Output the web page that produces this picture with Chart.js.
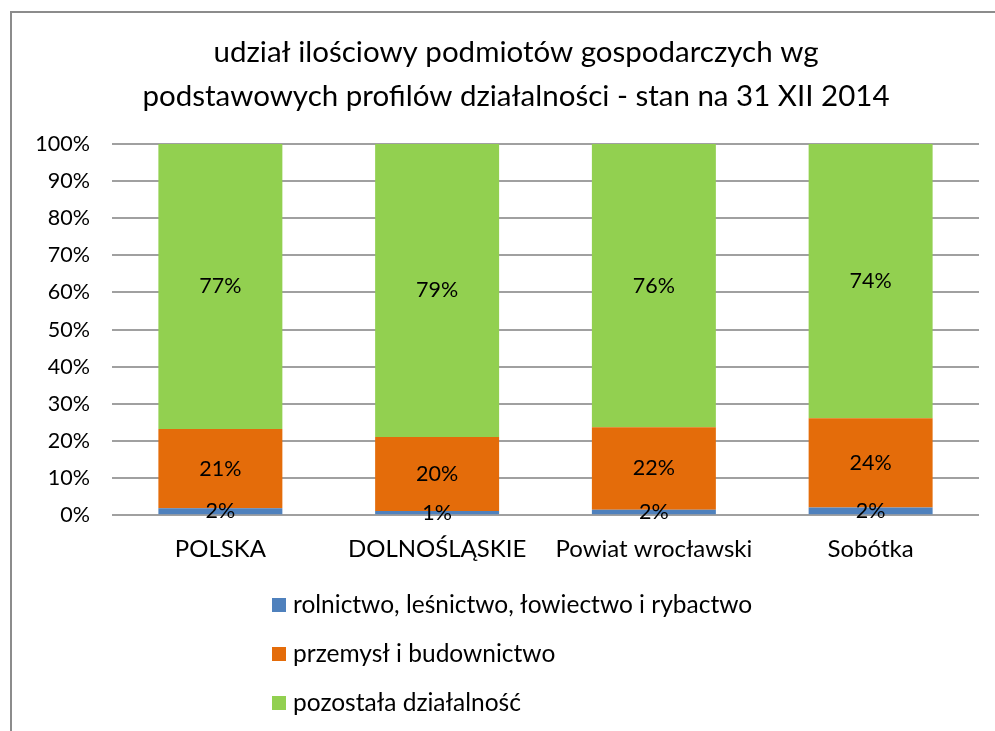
<!DOCTYPE html>
<html>
<head>
<meta charset="utf-8">
<script src="https://cdn.jsdelivr.net/npm/chart.js@4"></script>
<style>
  body { margin: 0; background: #fff; }
  #wrap { position: relative; width: 995px; height: 731px; }
</style>
</head>
<body>
<div id="wrap"><canvas id="profileChart" width="995" height="731"></canvas></div>
<script>
var categories = ["POLSKA", "DOLNOŚLĄSKIE", "Powiat wrocławski", "Sobótka"];
var seriesNames = ["rolnictwo, leśnictwo, łowiectwo i rybactwo", "przemysł i budownictwo", "pozostała działalność"];
var rolnictwo = [1.9, 1.1, 1.5, 2.1];
var przemysl = [21.3, 20.0, 22.2, 24.0];
var pozostala = [76.8, 78.9, 76.3, 73.9];
var colors = ["#4F81BD", "#E46C0A", "#92D050"];
var titleLines = ["udział ilościowy podmiotów gospodarczych wg", "podstawowych profilów działalności - stan na 31 XII 2014"];

var fontName = "Lato";

// labels in the middle of each segment
var segmentLabels = {
    id: 'segmentLabels',
    afterDatasetsDraw: function (chart) {
        var ctx = chart.ctx;
        ctx.save();
        ctx.font = "21.5px " + fontName;
        ctx.fillStyle = "#000";
        ctx.textAlign = "center";
        ctx.textBaseline = "middle";
        chart.data.datasets.forEach(function (ds, i) {
            chart.getDatasetMeta(i).data.forEach(function (bar, j) {
                var y = (bar.y + bar.base) / 2;
                ctx.fillText(Math.round(ds.data[j]) + "%", bar.x, y);
            });
        });
        ctx.restore();
    }
};

// frame, title and vertical legend
var frameAndLegend = {
    id: 'frameAndLegend',
    afterDraw: function (chart) {
        var ctx = chart.ctx;
        ctx.save();
        ctx.strokeStyle = "#8c8c8c";
        ctx.lineWidth = 2;
        ctx.beginPath();
        ctx.moveTo(11, 731);
        ctx.lineTo(11, 12);
        ctx.lineTo(995, 12);
        ctx.stroke();

        ctx.fillStyle = "#000";
        ctx.font = "29.5px " + fontName;
        ctx.textAlign = "center";
        ctx.textBaseline = "middle";
        ctx.fillText(titleLines[0], 516, 52);
        ctx.fillText(titleLines[1], 516, 96);

        ctx.font = "24.5px " + fontName;
        ctx.textAlign = "left";
        for (var i = 0; i < seriesNames.length; i++) {
            var y = 605 + i * 49;
            ctx.fillStyle = colors[i];
            ctx.fillRect(272, y - 7, 14, 14);
            ctx.fillStyle = "#000";
            ctx.fillText(seriesNames[i], 293, y);
        }
        ctx.restore();
    }
};

var mychart = new Chart(document.getElementById("profileChart"), {
    type: 'bar',
    data: {
        labels: categories,
        datasets: [{
            label: seriesNames[0],
            data: rolnictwo,
            backgroundColor: colors[0]
        }, {
            label: seriesNames[1],
            data: przemysl,
            backgroundColor: colors[1]
        }, {
            label: seriesNames[2],
            data: pozostala,
            backgroundColor: colors[2]
        }]
    },
    options: {
        responsive: false,
        animation: false,
        layout: { padding: { left: 0, right: 16, top: 144, bottom: 155 } },
        datasets: {
            bar: { barPercentage: 0.572, categoryPercentage: 1.0 }
        },
        plugins: {
            legend: { display: false },
            tooltip: { enabled: false },
            title: { display: false }
        },
        scales: {
            x: {
                stacked: true,
                grid: { display: false },
                border: { display: false },
                ticks: { color: "#000", font: { family: fontName, size: 24 }, padding: 12 }
            },
            y: {
                stacked: true,
                min: 0,
                max: 100,
                afterFit: function (scale) { scale.width = 112; },
                grid: { color: "#a0a0a0", lineWidth: 2, drawTicks: false },
                border: { display: false },
                ticks: {
                    stepSize: 10,
                    color: "#000",
                    padding: 22,
                    font: { family: fontName, size: 21.5 },
                    callback: function (v) { return v + "%"; }
                }
            }
        }
    },
    plugins: [segmentLabels, frameAndLegend]
});
</script>
</body>
</html>
